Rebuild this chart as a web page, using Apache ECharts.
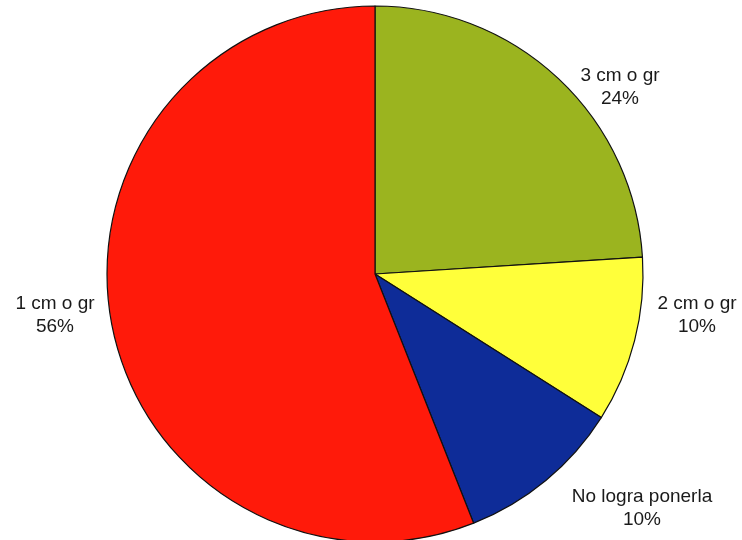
<!DOCTYPE html>
<html>
<head>
<meta charset="utf-8">
<script src="https://cdn.jsdelivr.net/npm/echarts@6/dist/echarts.min.js"></script>
<style>
  html, body { margin: 0; padding: 0; background: #fff; }
  #chart { width: 742px; height: 540px; }
</style>
</head>
<body>
<div id="chart"></div>
<script>
// datos del grafico
var categorias = ['3 cm o gr', '2 cm o gr', 'No logra ponerla', '1 cm o gr'];
var valores = [24, 10, 10, 56];
var colores = ['#9bb41f', '#ffff3a', '#0e2c98', '#ff1a0a'];

// posicion de cada etiqueta (centro del texto)
var posEtiquetas = [[620, 87], [697, 315], [642, 508], [55, 315]];

var chart = echarts.init(document.getElementById('chart'));

var datos = [];
for (var i = 0; i < categorias.length; i++) {
    datos.push({
        name: categorias[i],
        value: valores[i],
        itemStyle: { color: colores[i] }
    });
}

var option = {
    backgroundColor: '#ffffff',
    animation: false,
    series: [
        {
            type: 'pie',
            center: [375, 274],
            radius: 268,
            startAngle: 90,
            clockwise: true,
            data: datos,
            itemStyle: {
                borderColor: '#111',
                borderWidth: 1.2
            },
            label: {
                show: true,
                position: 'outside',
                formatter: '{b}\n{d}%',
                fontFamily: 'Liberation Sans, Arial, sans-serif',
                fontSize: 19,
                lineHeight: 23,
                color: '#1a1a1a',
                align: 'center',
                overflow: 'none'
            },
            labelLine: { show: false },
            labelLayout: function (params) {
                var p = posEtiquetas[params.dataIndex];
                return {
                    x: p[0],
                    y: p[1],
                    align: 'center',
                    verticalAlign: 'middle'
                };
            }
        }
    ]
};

chart.setOption(option);
</script>
</body>
</html>
